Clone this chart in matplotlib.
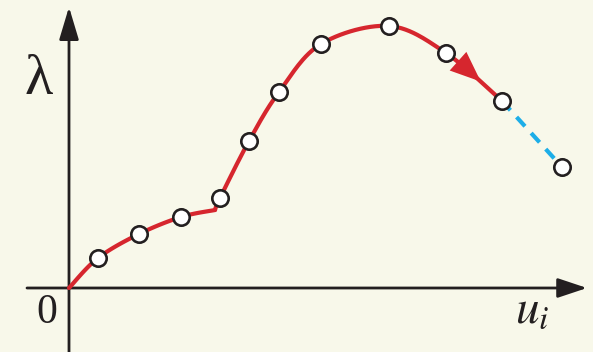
import matplotlib
matplotlib.use("Agg")
import matplotlib.pyplot as plt
import numpy as np

# marker points along the curve (u_i, lambda)
u_pts = [0.58, 1.40, 2.24, 3.02, 3.60, 4.20, 5.04, 6.40, 7.54, 8.66]
lam_pts = [0.60, 1.08, 1.42, 1.80, 2.94, 3.92, 4.88, 5.24, 4.70, 3.74]

# extrapolated (dashed) point
u_next = 9.86
lam_next = 2.42

# kink of the curve just before the 4th point
u_kink = 2.92
lam_kink = 1.56

red = '#d6262e'
blue = '#1daee8'
ink = '#231f20'
bg = '#f8f8ea'


def catmull(xs, ys, n=30):
    # smooth curve through the given points
    P = np.column_stack([xs, ys])
    P = np.vstack([P[0], P, P[-1]])
    out = []
    t = np.linspace(0, 1, n)[:, None]
    for i in range(1, len(P) - 2):
        p0, p1, p2, p3 = P[i - 1], P[i], P[i + 1], P[i + 2]
        seg = 0.5 * ((2 * p1) + (-p0 + p2) * t +
                     (2 * p0 - 5 * p1 + 4 * p2 - p3) * t ** 2 +
                     (-p0 + 3 * p1 - 3 * p2 + p3) * t ** 3)
        out.append(seg)
    out = np.vstack(out)
    return out[:, 0], out[:, 1]


fig = plt.figure(figsize=(5.93, 3.52), dpi=100, facecolor=bg)
ax = fig.add_axes([0, 0, 1, 1])
ax.set_facecolor(bg)
ax.set_xlim(-1.38, 10.48)
ax.set_ylim(-1.28, 5.76)
ax.axis('off')

# axes with arrows
ax.annotate('', xy=(10.36, 0), xytext=(-0.84, 0),
            arrowprops=dict(arrowstyle='-|>,head_length=18,head_width=6',
                            mutation_scale=1, lw=2, color=ink,
                            shrinkA=0, shrinkB=0))
ax.annotate('', xy=(0, 5.62), xytext=(0, -1.28),
            arrowprops=dict(arrowstyle='-|>,head_length=20,head_width=6',
                            mutation_scale=1, lw=2, color=ink,
                            shrinkA=0, shrinkB=0))

# red curve in two pieces (sharp kink)
xa, ya = catmull([0] + u_pts[:3] + [u_kink], [0] + lam_pts[:3] + [lam_kink])
xb, yb = catmull([u_kink] + u_pts[3:], [lam_kink] + lam_pts[3:])
ax.plot(xa, ya, color=red, lw=3, solid_capstyle='round', zorder=3)
ax.plot(xb, yb, color=red, lw=3, solid_capstyle='round', zorder=3)

# arrow head on the curve
k = np.argmin(np.abs(xb - 8.22))
ax.annotate('', xy=(xb[k], yb[k]), xytext=(xb[k - 4], yb[k - 4]),
            arrowprops=dict(arrowstyle='-|>,head_length=22,head_width=9',
                            mutation_scale=1, lw=0, color=red,
                            shrinkA=0, shrinkB=0), zorder=4)

# dashed continuation
ax.plot([u_pts[-1], u_next], [lam_pts[-1], lam_next], color=blue, lw=3,
        dashes=(3, 2.2), zorder=2)

# markers
ax.plot(u_pts + [u_next], lam_pts + [lam_next], 'o', ms=11.8,
        mfc='white', mec=ink, mew=1.9, zorder=5)

# labels
ax.text(-0.60, 4.16, 'λ', family='Liberation Serif', fontsize=42,
        ha='center', va='center', color=ink)
ax.text(-0.44, -0.50, '0', family='Liberation Serif', fontsize=30,
        ha='center', va='center', color=ink)
plt.rcParams['mathtext.fontset'] = 'stix'
ax.text(8.92, -0.70, r'$u_i$', fontsize=34, ha='left', va='baseline',
        color=ink)

fig.savefig('out.png', dpi=100, facecolor=bg)
